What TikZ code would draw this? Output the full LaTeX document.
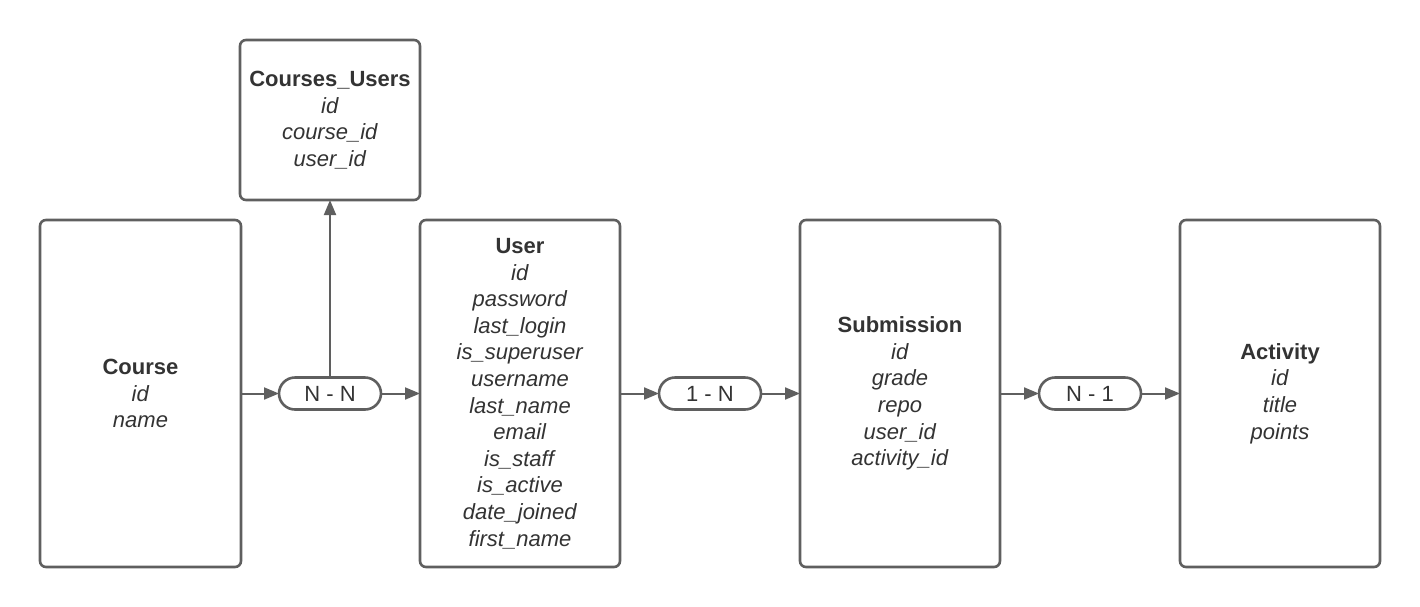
\documentclass[tikz,border=0pt]{standalone}
\usepackage{fontspec}
\setmainfont{Liberation Sans}
\usetikzlibrary{arrows.meta}
\definecolor{linec}{HTML}{5F5F5F}
\definecolor{textc}{HTML}{333333}
\tikzset{
  entity/.style={draw=linec, line width=2.6pt, rounded corners=6pt, inner sep=0pt, outer sep=0pt,
    align=center, text=textc, font=\fontsize{22}{26.6}\selectfont},
  pill/.style={draw=linec, line width=2.6pt, rounded corners=16pt, minimum width=102pt, minimum height=32pt,
    inner sep=0pt, outer sep=0pt, text=textc, font=\fontsize{22}{26.6}\selectfont},
  conn/.style={draw=linec, line width=2pt, -{Triangle[length=15pt,width=12pt]}, color=linec},
}
\newcommand{\ttl}[1]{\textbf{#1}}
\begin{document}
\begin{tikzpicture}[x=1pt,y=-1pt]
\useasboundingbox (0,0) rectangle (1420,606);
\node[entity, minimum width=201pt, minimum height=347pt] (course) at (140.5,393.5)
  {\ttl{Course}\\ \textit{id}\\ \textit{name}};
\node[entity, minimum width=180pt, minimum height=160pt] (cu) at (330,120)
  {\ttl{Courses\_Users}\\ \textit{id}\\ \textit{course\_id}\\ \textit{user\_id}};
\node[entity, minimum width=200pt, minimum height=347pt] (user) at (520,393.5)
  {\ttl{User}\\ \textit{id}\\ \textit{password}\\ \textit{last\_login}\\ \textit{is\_superuser}\\ \textit{username}\\ \textit{last\_name}\\ \textit{email}\\ \textit{is\_staff}\\ \textit{is\_active}\\ \textit{date\_joined}\\ \textit{first\_name}};
\node[entity, minimum width=200pt, minimum height=347pt] (sub) at (900,393.5)
  {\ttl{Submission}\\ \textit{id}\\ \textit{grade}\\ \textit{repo}\\ \textit{user\_id}\\ \textit{activity\_id}};
\node[entity, minimum width=200pt, minimum height=347pt] (act) at (1280,393.5)
  {\ttl{Activity}\\ \textit{id}\\ \textit{title}\\ \textit{points}};
\node[pill] (nn) at (330,393.5) {N - N};
\node[pill] (onen) at (710,393.5) {1 - N};
\node[pill] (none) at (1090,393.5) {N - 1};
\draw[conn] (course.east) -- (nn.west);
\draw[conn] (nn.east) -- (user.west);
\draw[conn] (nn.north) -- (cu.south);
\draw[conn] (user.east) -- (onen.west);
\draw[conn] (onen.east) -- (sub.west);
\draw[conn] (sub.east) -- (none.west);
\draw[conn] (none.east) -- (act.west);
\end{tikzpicture}
\end{document}
